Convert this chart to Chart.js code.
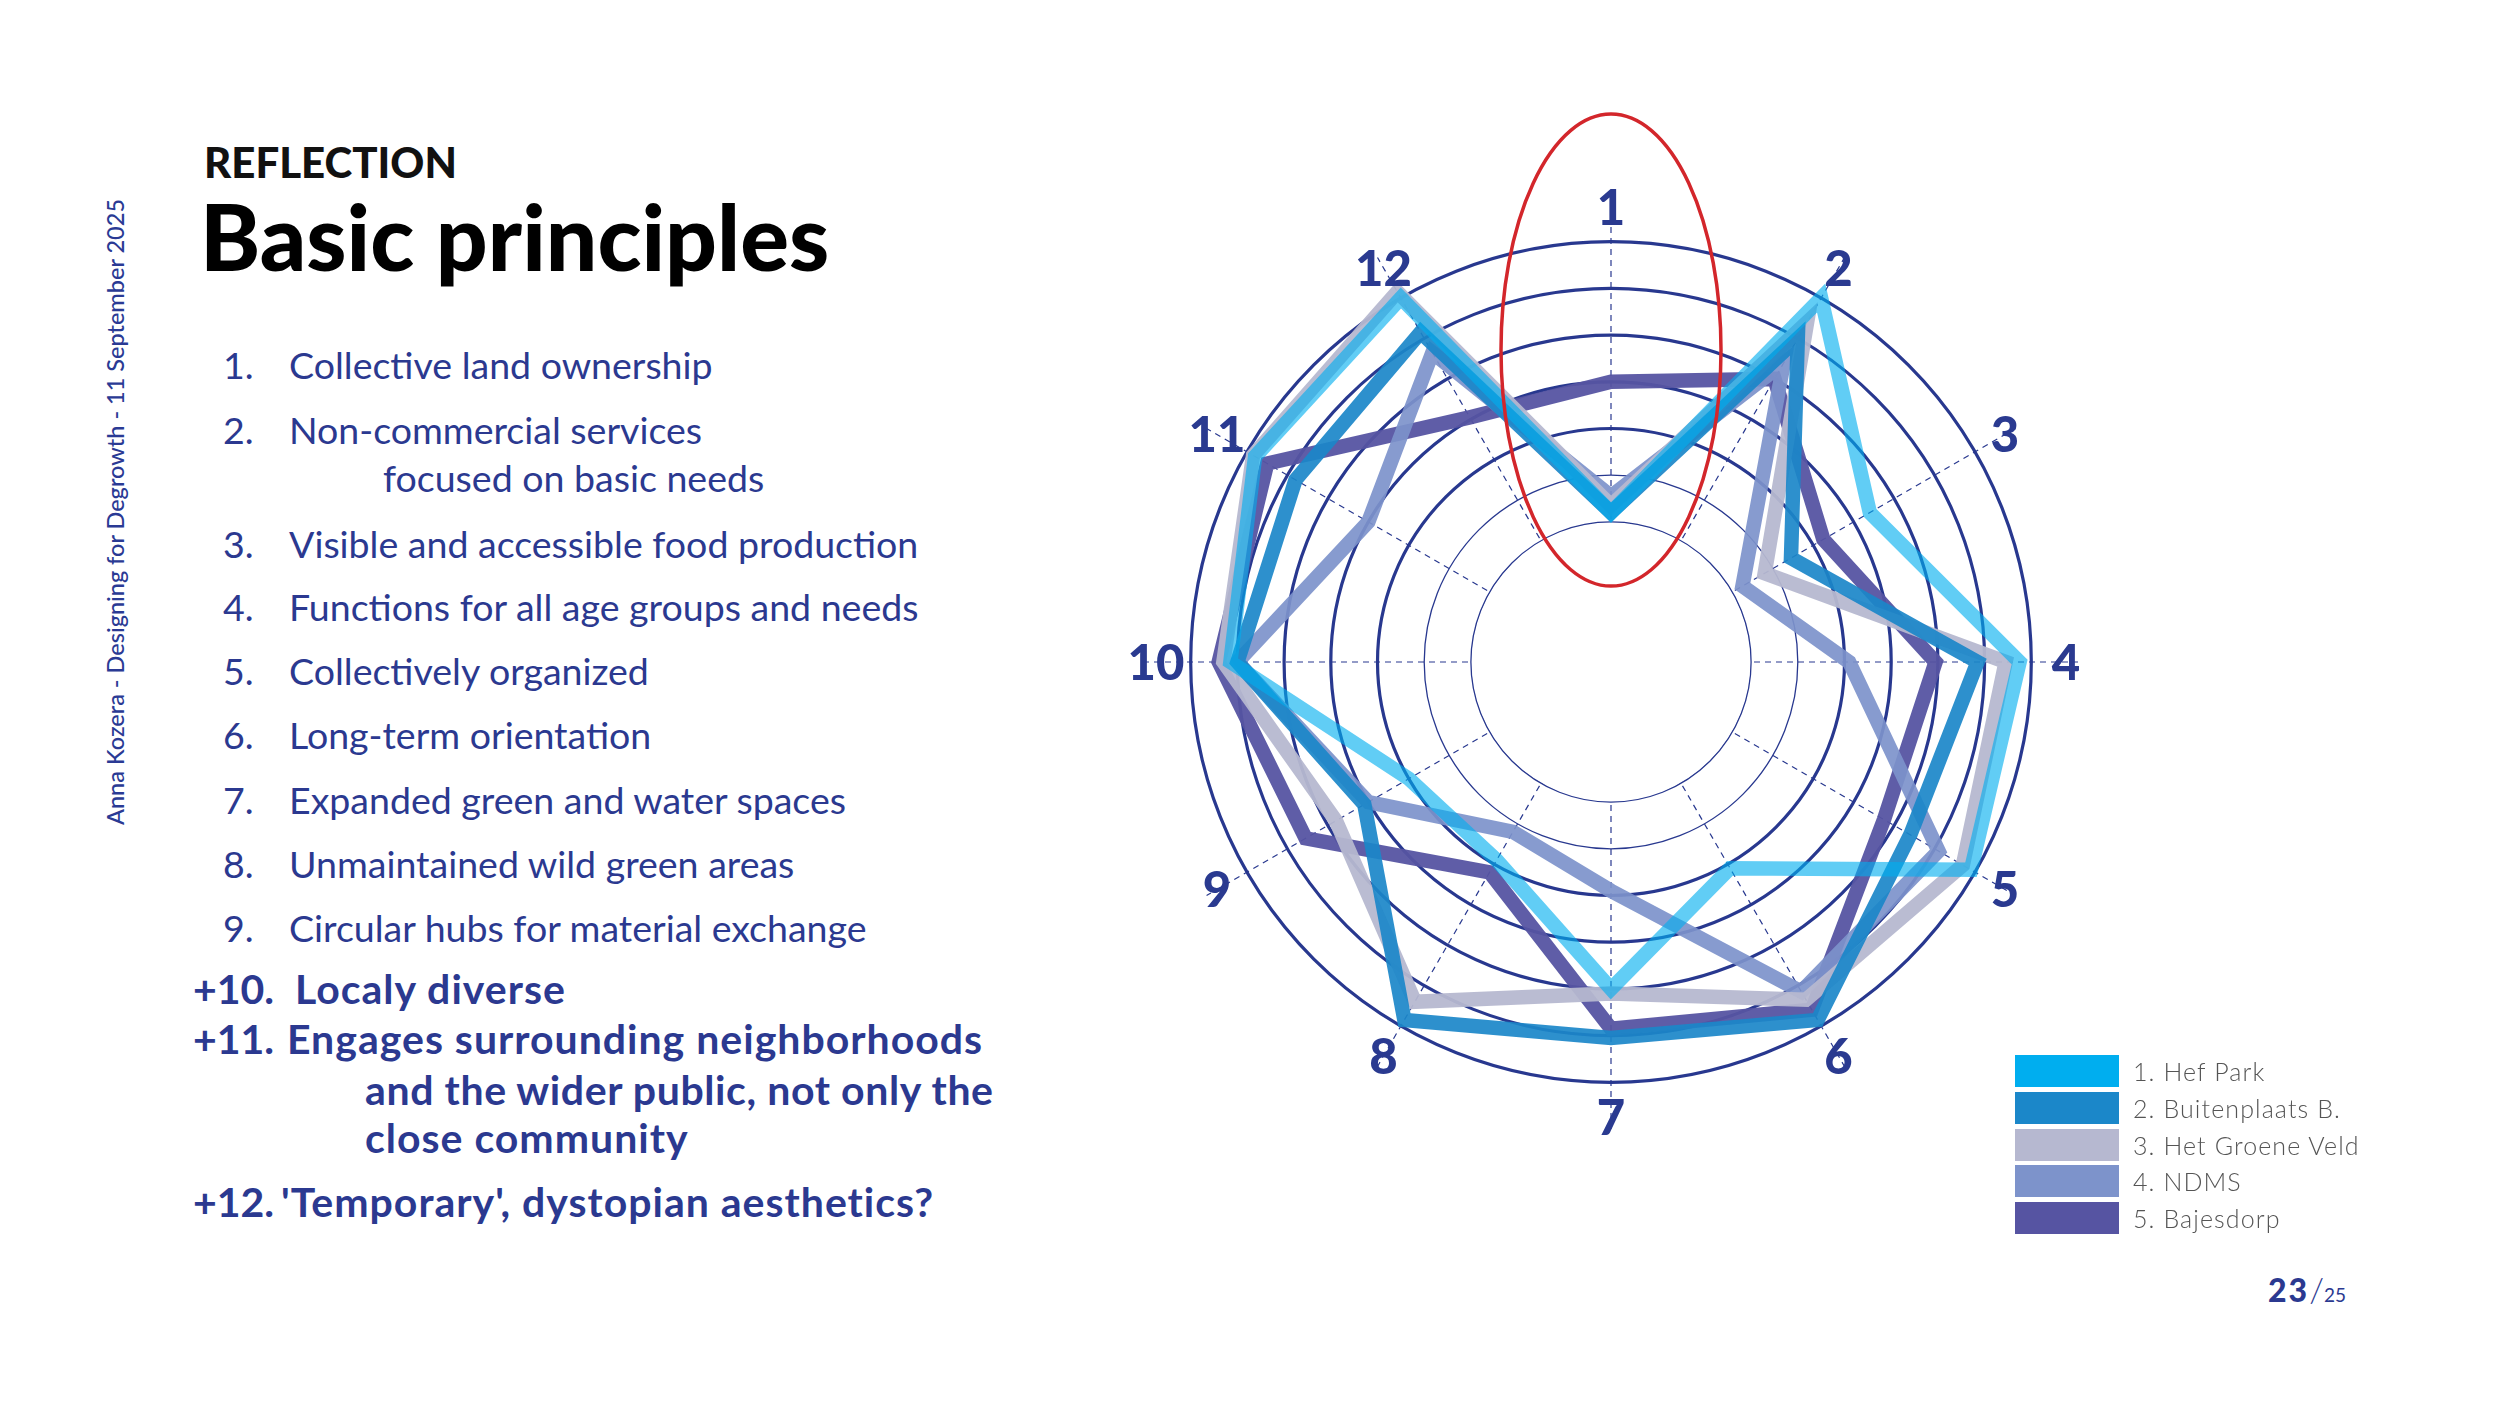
<!DOCTYPE html>
<html>
<head>
<meta charset="utf-8">
<script src="https://cdn.jsdelivr.net/npm/chart.js@4.4.1/dist/chart.umd.min.js"></script>
<style>
  body { margin: 0; width: 2500px; height: 1406px; background: #fff; position: relative; overflow: hidden; font-family: Lato, sans-serif; color: #2b3990; }
  .t { position: absolute; white-space: nowrap; line-height: 1; }
  .reg { font-size: 37.5px; font-weight: 400; }
  .bold { font-size: 41px; font-weight: 700; letter-spacing: 1px; }
  .num { letter-spacing: 0; }
  #side { position: absolute; left: 115px; top: 512px; transform: translate(-50%, -50%) rotate(-90deg); font-size: 23.5px; font-weight: 500; white-space: nowrap; color: #2a3a94; }
  #chartBox { position: absolute; left: 961px; top: 12px; width: 1300px; height: 1300px; }
  #legend { position: absolute; left: 2015px; top: 1055px; }
  .row { display: flex; align-items: center; height: 32.5px; margin-bottom: 4.2px; }
  .sw { width: 104px; height: 32px; }
  .lab { margin-left: 14px; font-size: 25px; font-weight: 300; letter-spacing: 1.1px; color: #555; }
  #page { position: absolute; left: 2268px; top: 1268px; white-space: nowrap; }
</style>
</head>
<body>
<div id="side">Anna Kozera - Designing for Degrowth - 11 September 2025</div>
<div class="t" style="left:204px;top:141px;font-size:42px;font-weight:900;color:#111;">REFLECTION</div>
<div class="t" style="left:200px;top:190px;font-size:91px;font-weight:900;color:#000;">Basic principles</div>

<div class="t reg" style="left:223px;top:346px;">1.</div><div class="t reg" style="left:289px;top:346px;">Collective land ownership</div>
<div class="t reg" style="left:223px;top:411px;">2.</div><div class="t reg" style="left:289px;top:411px;">Non-commercial services</div>
<div class="t reg" style="left:383px;top:459px;">focused on basic needs</div>
<div class="t reg" style="left:223px;top:525px;">3.</div><div class="t reg" style="left:289px;top:525px;">Visible and accessible food production</div>
<div class="t reg" style="left:223px;top:588px;">4.</div><div class="t reg" style="left:289px;top:588px;">Functions for all age groups and needs</div>
<div class="t reg" style="left:223px;top:652px;">5.</div><div class="t reg" style="left:289px;top:652px;">Collectively organized</div>
<div class="t reg" style="left:223px;top:716px;">6.</div><div class="t reg" style="left:289px;top:716px;">Long-term orientation</div>
<div class="t reg" style="left:223px;top:781px;">7.</div><div class="t reg" style="left:289px;top:781px;">Expanded green and water spaces</div>
<div class="t reg" style="left:223px;top:845px;">8.</div><div class="t reg" style="left:289px;top:845px;">Unmaintained wild green areas</div>
<div class="t reg" style="left:223px;top:909px;">9.</div><div class="t reg" style="left:289px;top:909px;">Circular hubs for material exchange</div>

<div class="t bold num" style="left:193px;top:968px;">+10.</div><div class="t bold" style="left:295px;top:968px;">Localy diverse</div>
<div class="t bold num" style="left:193px;top:1018px;">+11.</div><div class="t bold" style="left:287px;top:1018px;">Engages surrounding neighborhoods</div>
<div class="t bold" style="left:365px;top:1069px;letter-spacing:0.6px;">and the wider public, not only the</div>
<div class="t bold" style="left:365px;top:1117px;">close community</div>
<div class="t bold num" style="left:193px;top:1181px;">+12.</div><div class="t bold" style="left:281px;top:1181px;">'Temporary', dystopian aesthetics?</div>

<div id="chartBox"><canvas id="radar" width="1300" height="1300"></canvas></div>
<div id="legend"></div>
<div id="page"><span style="font-size:32px;font-weight:900;letter-spacing:2px;">23</span><span style="font-size:34px;font-weight:300;">/</span><span style="font-size:19px;font-weight:400;">25</span></div>

<script>
// principles 1..12 around the wheel
const axisLabels = ['1', '2', '3', '4', '5', '6', '7', '8', '9', '10', '11', '12'];

// scores per principle (rings 0..6)
const hefPark      = [0.2, 6.0, 3.4, 5.75, 5.9, 2.1, 4.0, 1.9, 2.0, 5.15, 5.8, 6.0];
const buitenplaats = [0.2, 5.0, 1.45, 4.85, 4.4, 5.85, 5.05, 5.85, 3.1, 5.0, 4.8, 5.15];
const groeneVeld   = [0.35, 5.4, 0.8, 5.45, 5.7, 5.35, 4.1, 5.4, 3.8, 5.3, 5.85, 6.15];
const ndms         = [0.55, 4.4, 0.25, 2.1, 5.1, 5.15, 1.9, 1.2, 3.0, 5.0, 3.0, 4.65];
const bajesdorp    = [3.0, 4.0, 2.25, 3.95, 3.75, 5.6, 4.85, 2.2, 4.55, 5.4, 5.5, 3.05];

const seriesNames = ['1. Hef Park', '2. Buitenplaats B.', '3. Het Groene Veld', '4. NDMS', '5. Bajesdorp'];
const seriesValues = [hefPark, buitenplaats, groeneVeld, ndms, bajesdorp];
const swatchColors = ['#00aeef', '#1b87c9', '#b6b8d0', '#7d93cb', '#5654a2'];
const lineColors = ['rgba(0,174,239,0.62)', 'rgba(27,135,201,0.92)', 'rgba(182,184,208,0.95)', 'rgba(125,147,203,0.92)', 'rgba(86,84,162,0.95)'];

// red highlight around principle 1
const highlightAxis = 0;
const highlightValue = 3.68;

const navy = '#28388f';

const radarDecor = {
    id: 'radarDecor',
    beforeDatasetsDraw(chart) {
        // blank hole in the middle, angle lines only start at ring 0
        const s = chart.scales.r;
        const ctx = chart.ctx;
        ctx.save();
        ctx.beginPath();
        ctx.arc(s.xCenter, s.yCenter, s.getDistanceFromCenterForValue(0) - 1.2, 0, Math.PI * 2);
        ctx.fillStyle = '#fff';
        ctx.fill();
        ctx.restore();
    },
    afterDraw(chart) {
        const s = chart.scales.r;
        const ctx = chart.ctx;
        ctx.save();
        ctx.font = '900 49px Lato';
        ctx.fillStyle = '#2a3a90';
        ctx.textAlign = 'center';
        ctx.textBaseline = 'middle';
        chart.data.labels.forEach((lab, i) => {
            const p = s.getPointPosition(i, 455);
            ctx.fillText(lab, p.x, p.y + 2);
        });

        const c = s.getPointPositionForValue(highlightAxis, highlightValue);
        ctx.beginPath();
        ctx.ellipse(c.x, c.y, 110, 236, 0, 0, Math.PI * 2);
        ctx.strokeStyle = '#d3262b';
        ctx.lineWidth = 3.5;
        ctx.stroke();
        ctx.restore();
    }
};

const ctx = document.getElementById('radar').getContext('2d');

new Chart(ctx, {
    type: 'radar',
    data: {
        labels: axisLabels,
        datasets: seriesValues.map((vals, i) => ({
            label: seriesNames[i],
            data: vals,
            borderColor: lineColors[i],
            backgroundColor: 'rgba(0,0,0,0)',
            borderWidth: 14.5,
            borderJoinStyle: 'miter',
            fill: false,
            pointRadius: 0,
            tension: 0
        }))
    },
    options: {
        responsive: false,
        animation: false,
        devicePixelRatio: 1,
        layout: { padding: 183 },
        plugins: {
            legend: { display: false },
            tooltip: { enabled: false }
        },
        scales: {
            r: {
                min: -3,
                max: 7,
                ticks: { display: false, stepSize: 1 },
                pointLabels: { display: false },
                grid: {
                    circular: true,
                    color: (c) => (c.tick.value < 0 || c.tick.value > 6) ? 'rgba(0,0,0,0)' : navy,
                    lineWidth: (c) => (c.tick.value < 0 || c.tick.value > 6) ? 0 : (c.tick.value <= 1 ? 1.3 : 3.2)
                },
                angleLines: {
                    color: navy,
                    lineWidth: 1.2,
                    borderDash: [6, 5]
                }
            }
        }
    },
    plugins: [radarDecor]
});

// legend built from the same series
const legend = document.getElementById('legend');
seriesNames.forEach((name, i) => {
    const row = document.createElement('div');
    row.className = 'row';
    row.innerHTML = '<div class="sw" style="background:' + swatchColors[i] + '"></div><div class="lab">' + name + '</div>';
    legend.appendChild(row);
});
</script>
</body>
</html>
